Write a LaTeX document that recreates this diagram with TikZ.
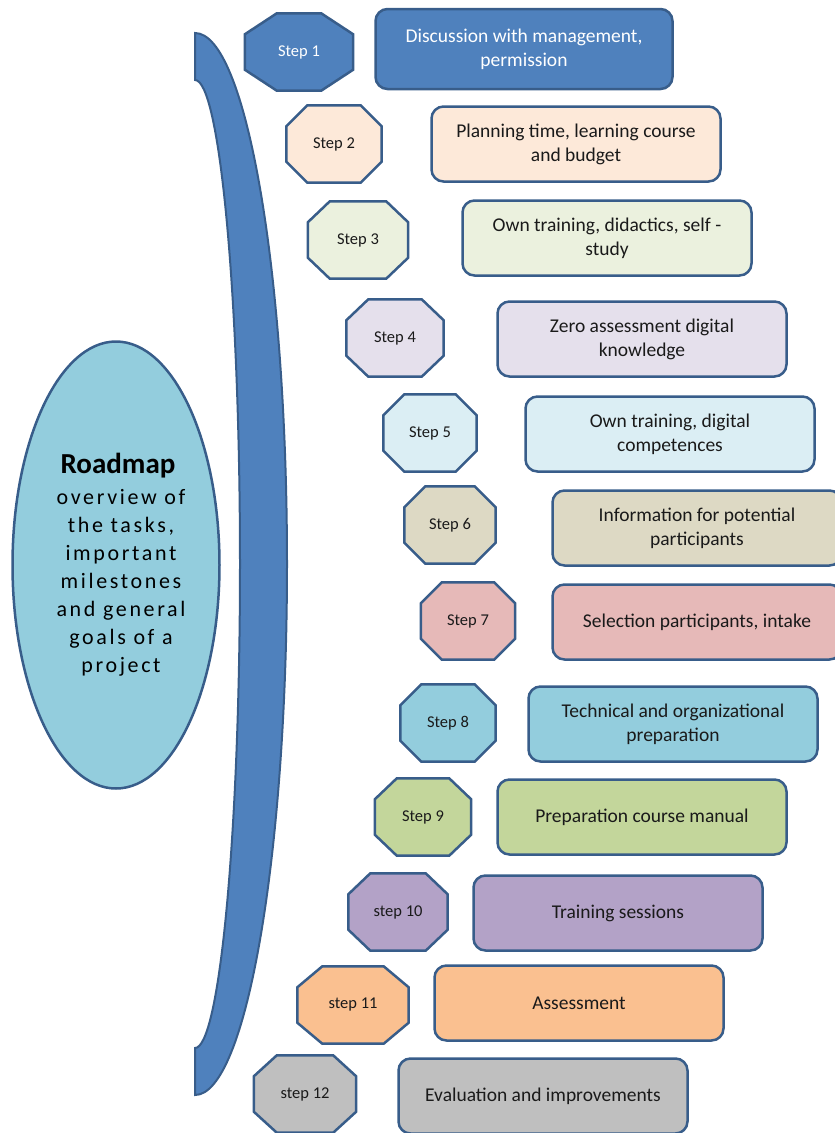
\documentclass[tikz,border=0pt]{standalone}
\usepackage{fontspec}
\setmainfont{Carlito}
\newfontfamily\widefont[LetterSpace=12]{Carlito}
\usetikzlibrary{shapes.geometric,backgrounds}

\definecolor{edge}{HTML}{385D8A}
\definecolor{c1}{HTML}{4F81BD}
\definecolor{c2}{HTML}{FDE9D9}
\definecolor{c3}{HTML}{EBF1DE}
\definecolor{c4}{HTML}{E5E0EC}
\definecolor{c5}{HTML}{DBEEF4}
\definecolor{c6}{HTML}{DDD9C4}
\definecolor{c7}{HTML}{E6B9B8}
\definecolor{c8}{HTML}{93CDDD}
\definecolor{c9}{HTML}{C3D69B}
\definecolor{c10}{HTML}{B3A2C7}
\definecolor{c11}{HTML}{FAC090}
\definecolor{c12}{HTML}{BFBFBF}
\definecolor{ink}{HTML}{1A1A1A}

\tikzset{
  stepbox/.style={minimum height=77, inner sep=0pt, text=ink,
    font=\fontsize{16.5}{19}\selectfont},
  taskbox/.style={draw=edge, line width=2.5pt, rounded corners=12,
    minimum width=289, minimum height=75, inner sep=0pt, align=center,
    text=ink, font=\fontsize{19.5}{24}\selectfont},
}

% octagon behind a step node: node, fill, horizontal cut
\newcommand\octa[3]{%
  \filldraw[draw=edge, line width=2.5pt, fill=#2]
    ([xshift=#3pt]#1.north west) -- ([xshift=-#3pt]#1.north east)
    -- ([yshift=-21pt]#1.north east) -- ([yshift=21pt]#1.south east)
    -- ([xshift=-#3pt]#1.south east) -- ([xshift=#3pt]#1.south west)
    -- ([yshift=21pt]#1.south west) -- ([yshift=-21pt]#1.north west) -- cycle;}

\begin{document}
\begin{tikzpicture}[x=1pt, y=-1pt]
   \useasboundingbox (0,0) rectangle (835,1133);
   \clip (0,0) rectangle (835,1133);

   % bracket
   \filldraw[draw=edge, line width=2pt, fill=c1]
      (195,33) arc[start angle=-90, end angle=90, x radius=92, y radius=531]
      -- (195,1048) arc[start angle=90, end angle=-90, x radius=45, y radius=484]
      -- cycle;

   % roadmap
   \node[ellipse, draw=edge, line width=2.5pt, fill=c8, minimum width=207,
         minimum height=447, inner sep=0pt] (map) at (116,565) {};
   \node[align=center, text=black, inner sep=0pt,
         font=\widefont\fontsize{22}{28}\selectfont] (maptext) at (121,565)
      {\hspace*{-6pt}{\normalfont\bfseries\fontsize{29}{28}\selectfont Roadmap}\\[3pt]
       overview of\\the tasks,\\important\\milestones\\and general\\goals of a\\project};

   % steps
   \node[stepbox, minimum width=108, text=white] (s1) at (299,52) {Step 1};
   \node[stepbox, minimum width=95]  (s2)  at (334,144)  {Step 2};
   \node[stepbox, minimum width=100] (s3)  at (358,240)  {Step 3};
   \node[stepbox, minimum width=97]  (s4)  at (395,338)  {Step 4};
   \node[stepbox, minimum width=93]  (s5)  at (430,433)  {Step 5};
   \node[stepbox, minimum width=91]  (s6)  at (450,525)  {Step 6};
   \node[stepbox, minimum width=94]  (s7)  at (468,621)  {Step 7};
   \node[stepbox, minimum width=95]  (s8)  at (448,723)  {Step 8};
   \node[stepbox, minimum width=96]  (s9)  at (423,817)  {Step 9};
   \node[stepbox, minimum width=99]  (s10) at (398,912)  {step 10};
   \node[stepbox, minimum width=111] (s11) at (353,1005) {step 11};
   \node[stepbox, minimum width=102] (s12) at (305,1094) {step 12};

   \begin{scope}[on background layer]
      \octa{s1}{c1}{32}
      \octa{s2}{c2}{21}
      \octa{s3}{c3}{22}
      \octa{s4}{c4}{22}
      \octa{s5}{c5}{21}
      \octa{s6}{c6}{21}
      \octa{s7}{c7}{21}
      \octa{s8}{c8}{21}
      \octa{s9}{c9}{22}
      \octa{s10}{c10}{22}
      \octa{s11}{c11}{25}
      \octa{s12}{c12}{23}
   \end{scope}

   % tasks
   \node[taskbox, fill=c1, text=white, minimum width=297, minimum height=80] (t1) at (524,49)
      {Discussion with management,\\permission};
   \node[taskbox, fill=c2]  (t2)  at (576,144)  {Planning time, learning course\\and budget};
   \node[taskbox, fill=c3]  (t3)  at (607,238)  {Own training, didactics, self -\\study};
   \node[taskbox, fill=c4]  (t4)  at (642,339)  {Zero assessment digital\\knowledge};
   \node[taskbox, fill=c5]  (t5)  at (670,434)  {Own training, digital\\competences};
   \node[taskbox, fill=c6]  (t6)  at (697,528)  {Information for potential\\participants};
   \node[taskbox, fill=c7]  (t7)  at (697,622)  {Selection participants, intake};
   \node[taskbox, fill=c8]  (t8)  at (673,724)  {Technical and organizational\\preparation};
   \node[taskbox, fill=c9]  (t9)  at (642,817)  {Preparation course manual};
   \node[taskbox, fill=c10] (t10) at (618,913)  {Training sessions};
   \node[taskbox, fill=c11] (t11) at (579,1003) {Assessment};
   \node[taskbox, fill=c12] (t12) at (543,1096) {Evaluation and improvements};
\end{tikzpicture}
\end{document}
